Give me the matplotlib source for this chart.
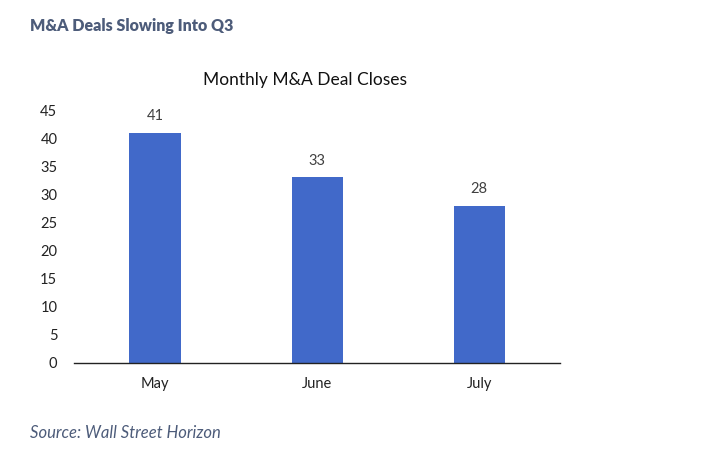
import numpy as np
import matplotlib.pyplot as plt

months = ['May', 'June', 'July']
deals = [41, 33, 28]
yticks = [0, 5, 10, 15, 20, 25, 30, 35, 40, 45]

plt.rcParams['font.family'] = ['Lato', 'DejaVu Sans']

fig = plt.figure(figsize=(7.17, 4.65), dpi=100)
ax = fig.add_axes([0.1032, 0.2194, 0.678, 0.544])

x = np.arange(len(months))
ax.bar(x, deals, width=0.315, color='#4169c9', zorder=2)
for xi, v in zip(x, deals):
	ax.annotate(str(v), (xi, v), xytext=(0, 7), textcoords='offset points',
		ha='center', va='bottom', fontsize=10.5, color='#404040')

ax.set_xlim(-0.5, 2.5)
ax.set_ylim(0, 45)
ax.set_yticks(yticks)
ax.set_xticks(x)
ax.set_xticklabels(months)
ax.tick_params(axis='both', length=0, labelsize=10.5, colors='#222222')
ax.tick_params(axis='y', pad=12)
ax.tick_params(axis='x', pad=10)
for s in ['top', 'right', 'left']:
	ax.spines[s].set_visible(False)
ax.spines['bottom'].set_color('#222222')
ax.spines['bottom'].set_linewidth(1.0)

fig.text(0.425, 0.828, 'Monthly M&A Deal Closes', ha='center', va='center',
	fontsize=12.5, color='#111111')
fig.text(0.042, 0.945, 'M&A Deals Slowing Into Q3', ha='left', va='center',
	fontsize=11.5, fontweight='heavy', color='#4d5c7a')
fig.text(0.042, 0.068, 'Source: Wall Street Horizon', ha='left', va='center',
	fontsize=12, style='italic', color='#4d5c7a')

fig.savefig('out.png', dpi=100)
